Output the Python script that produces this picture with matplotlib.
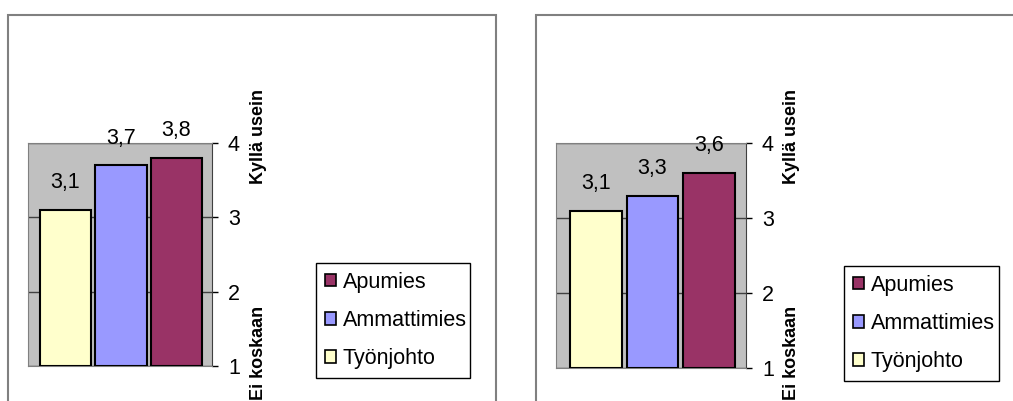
import matplotlib
matplotlib.use("Agg")
from matplotlib import pyplot as plt
from matplotlib.patches import Rectangle, Patch

# data
groups = ["Työnjohto", "Ammattimies", "Apumies"]
left_values = [3.1, 3.7, 3.8]
right_values = [3.1, 3.3, 3.6]
colors = ["#FFFFCC", "#9999FF", "#993366"]
y_ticks = [1, 2, 3, 4]
top_label = "Kyllä usein"
bottom_label = "Ei koskaan"

W, H = 1013, 401
plt.rcParams["font.family"] = ["Liberation Sans", "DejaVu Sans"]
fig = plt.figure(figsize=(W / 100, H / 100), dpi=100)


def fx(px):
    return px / W


def fy(py):
    return 1 - py / H


def panel(frame_x0, frame_x1, ax_x0, ax_x1, ax_y0, ax_y1, xlim, values, rot_x, legend_box):
    # outer chart frame
    fig.add_artist(Rectangle((fx(frame_x0), fy(H + 5)), fx(frame_x1 - frame_x0), fy(15) - fy(H + 5),
                             transform=fig.transFigure, fill=False, edgecolor="#808080", lw=1.5))
    ax = fig.add_axes([fx(ax_x0), fy(ax_y1), fx(ax_x1 - ax_x0), fy(ax_y0) - fy(ax_y1)])
    ax.set_facecolor("#C0C0C0")
    xs = range(len(groups))
    bars = ax.bar(xs, [v - 1 for v in values], bottom=1, width=0.92, color=colors,
                  edgecolor="black", lw=1.5, zorder=3)
    for b, v in zip(bars, values):
        ax.annotate(f"{v:.1f}".replace(".", ","), (b.get_x() + b.get_width() / 2, v),
                    xytext=(0, 19.5), textcoords="offset points", ha="center", va="center",
                    fontsize=15.5, annotation_clip=False, zorder=4)
    ax.set_xlim(*xlim)
    ax.set_ylim(1, 4)
    ax.set_yticks(y_ticks)
    ax.yaxis.tick_right()
    ax.tick_params(axis="y", direction="out", length=4.5, width=1, labelsize=15.5, pad=7)
    ax.set_xticks([])
    ax.grid(axis="y", color="#404040", lw=1, zorder=1)
    for s in ("top", "left", "bottom"):
        ax.spines[s].set_color("#808080")
    ax.spines["right"].set_color("#404040")
    side_font = dict(rotation=90, ha="center", va="center", fontsize=13, fontweight="heavy")
    fig.text(fx(rot_x), fy(136), top_label, **side_font)
    fig.text(fx(rot_x), fy(353), bottom_label, **side_font)
    handles = [Patch(facecolor=c, edgecolor="black", lw=1.2) for c in colors][::-1]
    lx0, ly0, lx1, ly1 = legend_box
    fig.legend(handles, groups[::-1], loc="upper left",
               bbox_to_anchor=(fx(lx0), fy(ly1), fx(lx1 - lx0), fy(ly0) - fy(ly1)),
               mode="expand", fontsize=15.5, handlelength=0.55, handleheight=0.55,
               handletextpad=0.3, labelspacing=0.8, borderpad=0.4, borderaxespad=0,
               fancybox=False, shadow=False, edgecolor="black", framealpha=1)


panel(8, 496, 28, 212, 143, 366, (-0.676, 2.64), left_values, 258, (316, 263, 470, 378))
panel(536, 1030, 556, 746, 143, 368, (-0.708, 2.655), right_values, 791, (844, 266, 999, 380))

fig.savefig("out.png", dpi=100)
